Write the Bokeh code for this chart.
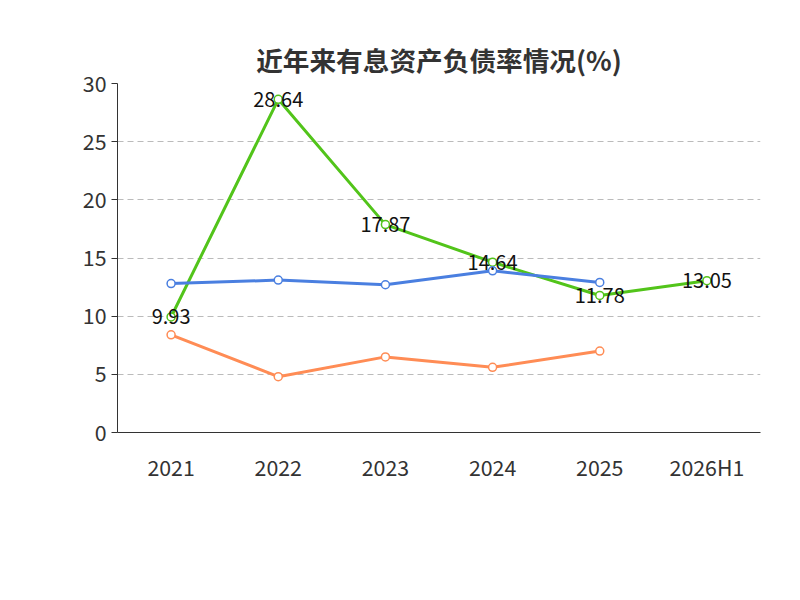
import math
from bokeh.plotting import figure
from bokeh.models import Legend, LegendItem, Title, Label, FixedTicker
from bokeh.core.properties import value
from bokeh.embed import file_html
from bokeh.resources import INLINE

cats = ["2021", "2022", "2023", "2024", "2025", "2026H1"]
debt = [9.93, 28.64, 17.87, 14.64, 11.78, 13.05]
avg = [12.8, 13.1, 12.7, 13.9, 12.9]
med = [8.4, 4.8, 6.5, 5.6, 7.0]
labels = ["9.93", "28.64", "17.87", "14.64", "11.78", "13.05"]

F = "Noto Sans CJK SC"
p = figure(x_range=cats, y_range=(0, 30), frame_width=643, frame_height=349, output_backend="svg",
           toolbar_location=None, min_border_left=117, min_border_right=16,
           min_border_top=83, min_border_bottom=152)
p.outline_line_color = None
p.title = Title(text="近年来有息资产负债率情况(%)", align="center", text_font=F,
                text_font_size="20pt", text_color="#333333", text_font_style="bold")
p.xgrid.grid_line_color = None
p.ygrid.grid_line_color = "#bbbbbb"
p.ygrid.grid_line_dash = "6 4"
p.yaxis.ticker = FixedTicker(ticks=[0, 5, 10, 15, 20, 25, 30])
for ax in (p.xaxis[0], p.yaxis[0]):
    ax.major_label_text_font = F
    ax.major_label_text_font_size = "16pt"
    ax.major_label_text_color = "#333333"
    ax.axis_line_color = "#333333"
    ax.major_tick_line_color = "#333333"
    ax.minor_tick_line_color = None
p.yaxis.major_tick_in = 0
p.yaxis.major_tick_out = 6
p.xaxis.major_tick_line_color = None
p.xaxis.major_label_standoff = 12

g = p.line(cats, debt, line_color="#52c41a", line_width=3)
gm = p.scatter(cats, debt, size=8, fill_color="white", line_color="#52c41a", line_width=1.5)
b = p.line(cats[:5], avg, line_color="#4a7fe0", line_width=3)
bm = p.scatter(cats[:5], avg, size=8, fill_color="white", line_color="#4a7fe0", line_width=1.5)
o = p.line(cats[:5], med, line_color="#ff8c55", line_width=3)
om = p.scatter(cats[:5], med, size=8, fill_color="white", line_color="#ff8c55", line_width=1.5)
p.text(x=cats, y=debt, text=labels, text_align="center", text_baseline="middle",
       text_font=value(F), text_font_size="15pt", text_color="#111111")

p.add_layout(Label(x=-60, y=27, x_units="screen", y_units="data", text="(%)", angle=math.pi/2,
                   text_color="red", text_font=F, text_font_size="11pt", text_align="center",
                   text_baseline="middle"))

leg = Legend(items=[LegendItem(label="有息资产负债率", renderers=[g, gm]),
                    LegendItem(label="行业均值", renderers=[b, bm]),
                    LegendItem(label="行业中位数", renderers=[o, om])],
             orientation="horizontal", location=(-35, -118), border_line_color=None,
             background_fill_alpha=0,
             label_text_font=F, label_text_font_size="15pt", label_text_color="#333333",
             glyph_width=45, spacing=25)
p.add_layout(leg, "center")
p.add_layout(Label(x=321, y=-149, x_units="screen", y_units="screen", text="制图数据来自恒生聚源数据库",
                   text_font=F, text_font_size="11pt", text_color="#c8960c", text_align="center",
                   text_baseline="middle"))

open("out.html", "w").write(file_html(p, INLINE))
